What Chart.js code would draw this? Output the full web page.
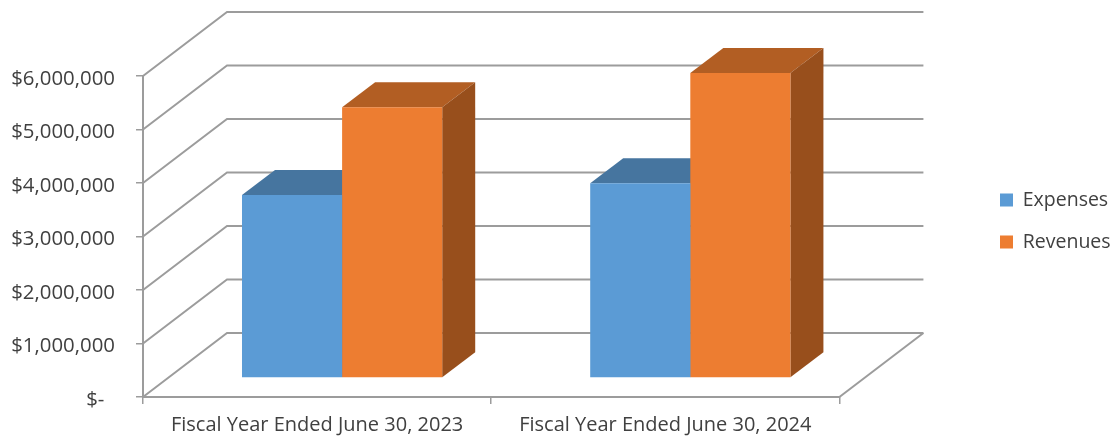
<!DOCTYPE html>
<html>
<head>
<meta charset="utf-8">
<title>Expenses and Revenues</title>
<style>
  html, body { margin: 0; padding: 0; background: #fff; }
  canvas { display: block; }
</style>
<script src="https://cdn.jsdelivr.net/npm/chart.js@4"></script>
</head>
<body>
<canvas id="myChart" width="1114" height="436"></canvas>
<script>
const categories = ['Fiscal Year Ended June 30, 2023', 'Fiscal Year Ended June 30, 2024'];
const expenses = [3420000, 3640000];
const revenues = [5060000, 5700000];
const yTickLabels = ['$-  ', '$1,000,000', '$2,000,000', '$3,000,000', '$4,000,000', '$5,000,000', '$6,000,000'];

const TEXT = '#404040';
const LINE = '#9c9c9c';
const FONT = 'Open Sans';

// fake 3d: how far the back wall and the bars sit from the front plane
const wallDepth = { x: 84, y: -64 };
const barShift = { x: 25, y: -19 };
const barDepth = { x: 33, y: -25 };

function poly(c, pts, fill) {
    c.beginPath();
    pts.forEach((p, i) => i ? c.lineTo(p[0], p[1]) : c.moveTo(p[0], p[1]));
    c.closePath();
    c.fillStyle = fill;
    c.fill();
}

const box3d = {
    id: 'box3d',
    afterLayout(chart) {
        // legend floats on its own, away from the plot
        const lg = chart.legend;
        const pad = chart.options.plugins.legend.labels.padding;
        lg.left = 1000 - pad;
        lg.right = lg.left + lg.width;
        lg.top -= 35;
        lg.bottom -= 35;
    },
    beforeDatasetsDraw(chart) {
        const c = chart.ctx;
        const y = chart.scales.y;
        const a = chart.chartArea;
        c.save();
        c.strokeStyle = LINE;
        c.lineWidth = 2;
        y.ticks.forEach(t => {
            const py = y.getPixelForValue(t.value);
            c.beginPath();
            c.moveTo(a.left, py);
            c.lineTo(a.left + wallDepth.x, py + wallDepth.y);
            c.lineTo(a.right + wallDepth.x, py + wallDepth.y);
            c.stroke();
        });
        // right edge of the floor
        c.beginPath();
        c.moveTo(a.right, a.bottom);
        c.lineTo(a.right + wallDepth.x, a.bottom + wallDepth.y);
        c.stroke();

        // top and side faces go first so the front of the next bar covers them
        c.translate(barShift.x, barShift.y);
        chart.data.datasets.forEach((ds, i) => {
            chart.getDatasetMeta(i).data.forEach(bar => {
                const l = bar.x - bar.width / 2;
                const r = bar.x + bar.width / 2;
                const dx = barDepth.x, dy = barDepth.y;
                poly(c, [[l, bar.y], [l + dx, bar.y + dy], [r + dx, bar.y + dy], [r, bar.y]], ds.topColor);
                poly(c, [[r, bar.y], [r + dx, bar.y + dy], [r + dx, bar.base + dy], [r, bar.base]], ds.sideColor);
            });
        });
        c.restore();
    },
    beforeDatasetDraw(chart) {
        chart.ctx.save();
        chart.ctx.translate(barShift.x, barShift.y);
    },
    afterDatasetDraw(chart) {
        chart.ctx.restore();
    }
};

new Chart(document.getElementById('myChart'), {
    type: 'bar',
    data: {
        labels: categories,
        datasets: [
            { label: 'Expenses', data: expenses, backgroundColor: '#5B9BD5', topColor: '#46759F', sideColor: '#3E6A94', clip: false },
            { label: 'Revenues', data: revenues, backgroundColor: '#ED7D31', topColor: '#B25E23', sideColor: '#984F1C', clip: false }
        ]
    },
    options: {
        responsive: false,
        animation: false,
        layout: { padding: { top: 76, right: 131.5, left: 0, bottom: 0 } },
        datasets: { bar: { barPercentage: 1, categoryPercentage: 0.575 } },
        scales: {
            x: {
                afterFit(s) { s.height = 39; },
                border: { color: LINE, width: 2 },
                grid: { drawOnChartArea: false, color: LINE, tickLength: 7, lineWidth: 1.5 },
                ticks: { color: TEXT, font: { family: FONT, size: 20 }, padding: 9, maxRotation: 0 }
            },
            y: {
                min: 0,
                max: 6000000,
                afterFit(s) { s.width = 143; },
                border: { color: LINE, width: 2 },
                grid: { drawOnChartArea: false, color: LINE, tickLength: 7, lineWidth: 1.5 },
                ticks: {
                    stepSize: 1000000,
                    color: TEXT,
                    font: { family: FONT, size: 20.4 },
                    padding: 21,
                    labelOffset: 3,
                    callback: (v, i) => yTickLabels[i]
                }
            }
        },
        plugins: {
            tooltip: { enabled: false },
            legend: {
                position: 'right',
                labels: { boxWidth: 13, boxHeight: 13, padding: 22.5, color: TEXT, font: { family: FONT, size: 19.5 } }
            }
        }
    },
    plugins: [box3d]
});
</script>
</body>
</html>
